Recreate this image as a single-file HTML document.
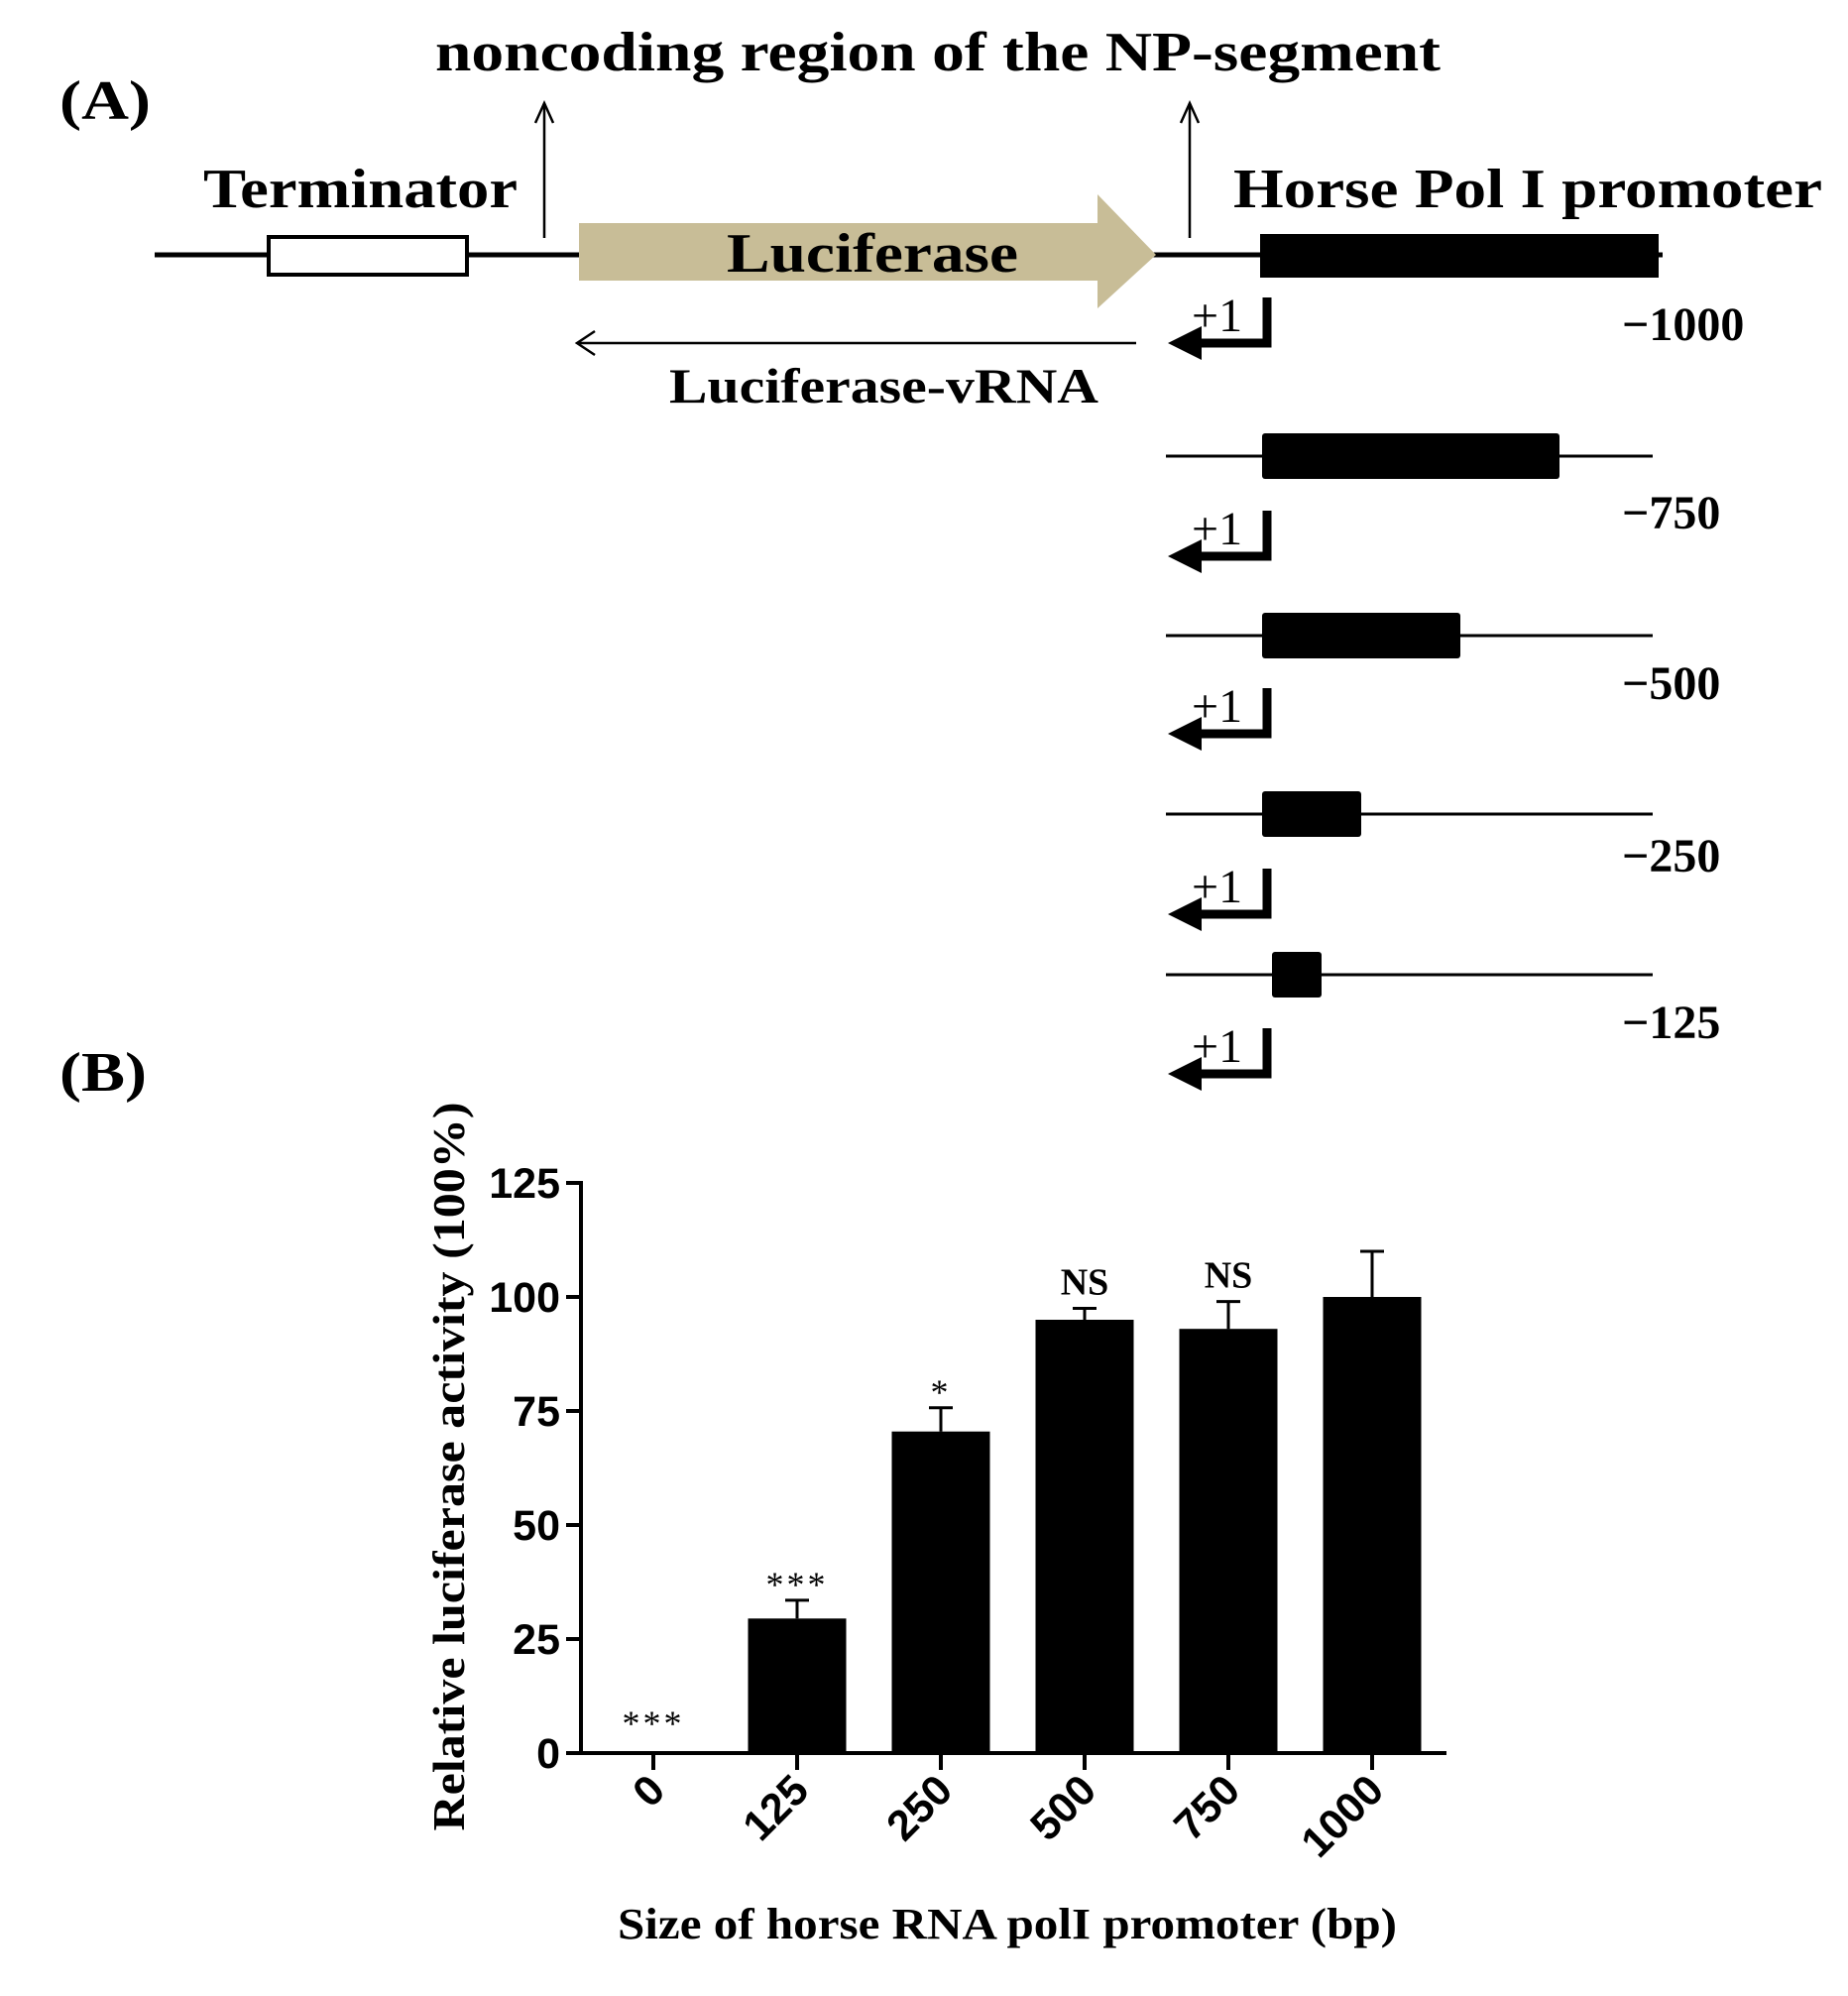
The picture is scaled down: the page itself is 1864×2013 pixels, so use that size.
<!DOCTYPE html>
<html><head><meta charset="utf-8"><style>
html,body{margin:0;padding:0;background:#fff;}
svg{display:block;}
</style></head><body>
<svg id="root" width="1864" height="2013" viewBox="0 0 1864 2013" xmlns="http://www.w3.org/2000/svg" font-family="'Liberation Serif', serif" font-weight="bold">
<g>
 <text x="60" y="120" font-size="56" textLength="92" lengthAdjust="spacingAndGlyphs">(A)</text>
 <text x="439" y="71" font-size="56" textLength="1014" lengthAdjust="spacingAndGlyphs">noncoding region of the NP-segment</text>
 <g stroke="#000" stroke-width="2.5" fill="none">
  <line x1="549" y1="104" x2="549" y2="240"/><polyline points="540,124 549,104 558,124"/>
  <line x1="1200" y1="104" x2="1200" y2="240"/><polyline points="1191,124 1200,104 1209,124"/>
 </g>
 <text x="205" y="209" font-size="56" textLength="317" lengthAdjust="spacingAndGlyphs">Terminator</text>
 <text x="1244" y="209" font-size="56" textLength="594" lengthAdjust="spacingAndGlyphs">Horse Pol I promoter</text>
 <line x1="156" y1="257" x2="1677" y2="257" stroke="#000" stroke-width="5"/>
 <rect x="271" y="239" width="200" height="38" fill="#fff" stroke="#000" stroke-width="4"/>
 <polygon points="584,225 1107,225 1107,196 1166,257 1107,311 1107,283 584,283" fill="#c8bd97"/>
 <text x="733" y="274" font-size="56" textLength="294" lengthAdjust="spacingAndGlyphs">Luciferase</text>
 <rect x="1271" y="236" width="402" height="44" fill="#000"/>
 <line x1="582" y1="346" x2="1146" y2="346" stroke="#000" stroke-width="2.5"/>
 <polyline points="600,334 582,346 600,358" fill="none" stroke="#000" stroke-width="2.5"/>
 <text x="675" y="406" font-size="50" textLength="433" lengthAdjust="spacingAndGlyphs">Luciferase-vRNA</text>
</g>
<g id="constructs"></g>
<text x="60" y="1100" font-size="56" textLength="88" lengthAdjust="spacingAndGlyphs">(B)</text>
<g id="chart"></g>
</svg>
<script>
const categories=['0','125','250','500','750','1000'];
const values=[0,29.5,70.5,95,93,100];
const errors=[0,4,5.2,2.5,6,10];
const marks=['***','***','*','NS','NS',''];
const yTicks=[0,25,50,75,100,125];
const constructLabels=['−1000','−750','−500','−250','−125'];
const constructLengths=[1000,750,500,250,125];

const NS='http://www.w3.org/2000/svg';
function mk(parent,tag,attrs){const e=document.createElementNS(NS,tag);for(const k in attrs)e.setAttribute(k,attrs[k]);parent.appendChild(e);return e;}
const cg=document.getElementById('constructs');
const arrowY=[346,561,740,922,1083];
const rowY=[257,460,641,821,983];
const labelY=[343,533,705,879,1047];
for(let i=0;i<constructLengths.length;i++){
  if(i>0){
    const l=mk(cg,'line',{x1:1176,y1:rowY[i],x2:1667,y2:rowY[i],stroke:'#000','stroke-width':3});
    
    
    const w=constructLengths[i]*0.4;
    const r=mk(cg,'rect',{x:constructLengths[i]===125?1283:1273,y:rowY[i]-23,width:w,height:46,fill:'#000',rx:3});
    
    
  }
  const ay=arrowY[i];
  const p=mk(cg,'path',{d:`M1278,${ay-46} L1278,${ay} L1205,${ay}`,fill:'none',stroke:'#000','stroke-width':9});
  
  
  mk(cg,'polygon',{points:`1178,${ay} 1212,${ay-17} 1212,${ay+17}`,fill:'#000'});
  const t=mk(cg,'text',{x:1202,y:ay-12,'font-size':48,'font-weight':'normal'});
  t.textContent='+1';
  
  
  const lt=mk(cg,'text',{x:1636,y:labelY[i],'font-size':48});
  lt.textContent=constructLabels[i];
  
  
}
const g=document.getElementById('chart');
const X0=586,Y0=1768,XEND=1459;
function yS(v){return Y0-v*4.6;}
function xS(i){return 659+i*145;}
const bw=99;
categories.forEach((c,i)=>{
  const x=xS(i);
  if(values[i]>0){
    const top=yS(values[i]+errors[i]);
    const e=mk(g,'path',{d:`M${x},${yS(values[i])} L${x},${top} M${x-12},${top} L${x+12},${top}`,stroke:'#000','stroke-width':3,fill:'none'});
    
    
    const r=mk(g,'rect',{x:x-bw/2,y:yS(values[i]),width:bw,height:Y0-yS(values[i]),fill:'#000'});
    
    
  }
  if(marks[i]){
    const isNS=marks[i]==='NS';
    const my=values[i]===0?Y0-18:yS(values[i]+errors[i])-(isNS?14:4);
    const t=mk(g,'text',{x:x,y:my,'text-anchor':'middle','font-size':isNS?38:36,'font-weight':isNS?'bold':'normal','letter-spacing':isNS?0:3});
    t.textContent=marks[i];
    
    
  }
  mk(g,'line',{x1:x,y1:Y0,x2:x,y2:Y0+17,stroke:'#000','stroke-width':4});
  const tl=mk(g,'text',{x:x+14,y:Y0+40,'text-anchor':'end','font-size':43,'font-family':"'Liberation Sans', sans-serif",transform:`rotate(-45 ${x+14} ${Y0+40})`});
  tl.textContent=c;
  
  
});
yTicks.forEach(v=>{
  mk(g,'line',{x1:X0-15,y1:yS(v),x2:X0,y2:yS(v),stroke:'#000','stroke-width':4});
  const t=mk(g,'text',{x:X0-21,y:yS(v)+15,'text-anchor':'end','font-size':43,'font-family':"'Liberation Sans', sans-serif"});
  t.textContent=v;
  
  
});
const ya=mk(g,'line',{x1:X0,y1:yS(125)-2,x2:X0,y2:Y0+2,stroke:'#000','stroke-width':4});


const xa=mk(g,'line',{x1:X0-14,y1:Y0,x2:XEND,y2:Y0,stroke:'#000','stroke-width':4});


const yt=mk(g,'text',{x:0,y:0,'text-anchor':'middle','font-size':46,textLength:735,lengthAdjust:'spacingAndGlyphs',transform:'translate(468,1479) rotate(-90)'});
yt.textContent='Relative luciferase activity (100%)';


const xt=mk(g,'text',{x:623,y:1955,'font-size':44,textLength:786,lengthAdjust:'spacingAndGlyphs'});
xt.textContent='Size of horse RNA polI promoter (bp)';


</script>
</body></html>
